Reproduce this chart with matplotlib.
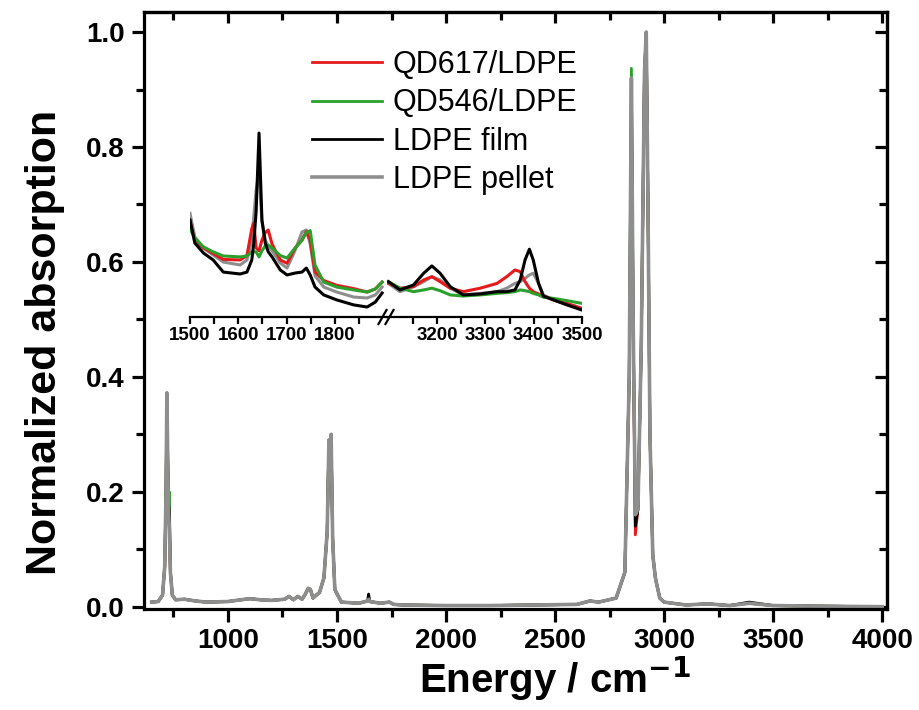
import matplotlib
matplotlib.use("Agg")
import matplotlib.pyplot as plt
from matplotlib.ticker import MultipleLocator, FixedLocator

plt.rcParams['font.family'] = ['Liberation Sans', 'DejaVu Sans']

# ---- main spectrum (normalized absorption vs wavenumber) ----
wn_main = [650, 680, 700, 710, 716, 720, 724, 728, 731, 736, 745, 760, 800, 850, 900,
           1000, 1080, 1100, 1150, 1200, 1260, 1280, 1300, 1320, 1340, 1355, 1368, 1378,
           1390, 1420, 1440, 1455, 1463, 1468, 1473, 1480, 1490, 1520, 1600, 1640, 1645,
           1650, 1700, 1740, 1760, 1800, 2000, 2200, 2400, 2600, 2660, 2700, 2780, 2820,
           2840, 2850, 2858, 2868, 2880, 2895, 2910, 2918, 2926, 2935, 2948, 2960, 2980,
           3000, 3100, 3200, 3300, 3390, 3500, 3700, 4000]

pellet_main = [0.008, 0.009, 0.02, 0.07, 0.2, 0.372, 0.25, 0.16, 0.14, 0.06, 0.02, 0.012, 0.013, 0.010, 0.008,
               0.009, 0.013, 0.014, 0.012, 0.011, 0.013, 0.018, 0.012, 0.018, 0.013, 0.022, 0.032, 0.030,
               0.015, 0.025, 0.05, 0.13, 0.29, 0.25, 0.30, 0.12, 0.03, 0.008, 0.006, 0.010, 0.013,
               0.009, 0.006, 0.008, 0.004, 0.003, 0.002, 0.002, 0.003, 0.004, 0.010, 0.008, 0.015, 0.06,
               0.40, 0.92, 0.50, 0.16, 0.17, 0.45, 0.93, 1.0, 0.70, 0.30, 0.09, 0.05, 0.015,
               0.008, 0.003, 0.005, 0.002, 0.006, 0.002, 0.001, 0.0]

film_main = [0.008, 0.009, 0.02, 0.07, 0.2, 0.35, 0.25, 0.18, 0.17, 0.06, 0.02, 0.012, 0.013, 0.010, 0.008,
             0.009, 0.013, 0.014, 0.012, 0.011, 0.013, 0.018, 0.012, 0.018, 0.013, 0.022, 0.032, 0.030,
             0.015, 0.025, 0.05, 0.13, 0.29, 0.25, 0.30, 0.12, 0.03, 0.008, 0.006, 0.010, 0.022,
             0.009, 0.006, 0.008, 0.004, 0.003, 0.002, 0.002, 0.003, 0.004, 0.010, 0.008, 0.015, 0.06,
             0.40, 0.91, 0.50, 0.14, 0.17, 0.45, 0.93, 1.0, 0.70, 0.30, 0.09, 0.05, 0.015,
             0.008, 0.003, 0.005, 0.002, 0.008, 0.002, 0.001, 0.0]

qd617_main = [0.008, 0.009, 0.02, 0.07, 0.2, 0.372, 0.25, 0.16, 0.14, 0.06, 0.02, 0.012, 0.013, 0.010, 0.008,
              0.009, 0.013, 0.014, 0.012, 0.011, 0.013, 0.018, 0.012, 0.018, 0.013, 0.022, 0.032, 0.030,
              0.015, 0.025, 0.05, 0.13, 0.29, 0.25, 0.30, 0.12, 0.03, 0.008, 0.006, 0.010, 0.013,
              0.009, 0.006, 0.008, 0.004, 0.003, 0.002, 0.002, 0.003, 0.004, 0.010, 0.008, 0.015, 0.06,
              0.40, 0.86, 0.50, 0.125, 0.17, 0.45, 0.93, 0.99, 0.70, 0.30, 0.09, 0.05, 0.015,
              0.008, 0.003, 0.005, 0.002, 0.006, 0.002, 0.001, 0.0]

qd546_main = [0.008, 0.009, 0.02, 0.07, 0.2, 0.372, 0.25, 0.16, 0.20, 0.06, 0.02, 0.012, 0.013, 0.010, 0.008,
              0.009, 0.013, 0.014, 0.012, 0.011, 0.013, 0.018, 0.012, 0.018, 0.013, 0.022, 0.032, 0.030,
              0.015, 0.025, 0.05, 0.13, 0.29, 0.25, 0.30, 0.12, 0.03, 0.008, 0.006, 0.010, 0.013,
              0.009, 0.006, 0.008, 0.004, 0.003, 0.002, 0.002, 0.003, 0.004, 0.010, 0.008, 0.015, 0.06,
              0.40, 0.937, 0.50, 0.15, 0.17, 0.45, 0.93, 1.0, 0.70, 0.30, 0.09, 0.05, 0.015,
              0.008, 0.003, 0.005, 0.002, 0.006, 0.002, 0.001, 0.0]

# ---- inset, low wavenumber part (arb. units) ----
wn_in1 = [1500, 1510, 1528, 1548, 1569, 1604, 1618, 1628, 1632, 1637, 1643, 1649, 1656, 1662,
          1670, 1687, 1701, 1718, 1732, 1741, 1749, 1759, 1777, 1804, 1839, 1867, 1884, 1898]
film_in1 = [0.505, 0.385, 0.333, 0.297, 0.234, 0.224, 0.234, 0.297, 0.38, 0.55, 0.958, 0.505, 0.385, 0.34,
            0.313, 0.245, 0.219, 0.229, 0.234, 0.255, 0.219, 0.156, 0.115, 0.089, 0.063, 0.052, 0.078, 0.125]
pellet_in1 = [0.54, 0.417, 0.359, 0.323, 0.286, 0.271, 0.297, 0.40, 0.52, 0.66, 0.76, 0.50, 0.40, 0.37,
              0.345, 0.281, 0.255, 0.349, 0.443, 0.453, 0.38, 0.215, 0.156, 0.13, 0.104, 0.099, 0.115, 0.156]
qd546_in1 = [0.46, 0.411, 0.365, 0.339, 0.318, 0.313, 0.318, 0.339, 0.34, 0.339, 0.313, 0.345, 0.37, 0.375,
             0.36, 0.32, 0.307, 0.36, 0.40, 0.44, 0.45, 0.27, 0.182, 0.156, 0.141, 0.13, 0.146, 0.182]
qd617_in1 = [0.50, 0.40, 0.36, 0.33, 0.30, 0.297, 0.32, 0.46, 0.49, 0.36, 0.345, 0.40, 0.44, 0.453,
             0.38, 0.297, 0.28, 0.36, 0.40, 0.445, 0.40, 0.235, 0.19, 0.165, 0.148, 0.13, 0.146, 0.182]

# ---- inset, high wavenumber part ----
wn_in2 = [3099, 3123, 3151, 3172, 3189, 3206, 3227, 3254, 3289, 3324, 3344, 3361, 3372, 3382,
          3391, 3399, 3410, 3420, 3441, 3469, 3500]
film_in2 = [0.184, 0.141, 0.167, 0.228, 0.266, 0.228, 0.158, 0.115, 0.12, 0.132, 0.132, 0.141, 0.193, 0.297,
            0.353, 0.297, 0.175, 0.109, 0.089, 0.063, 0.036]
pellet_in2 = [0.175, 0.132, 0.158, 0.184, 0.21, 0.193, 0.15, 0.115, 0.123, 0.132, 0.15, 0.175, 0.184, 0.201,
              0.219, 0.228, 0.175, 0.115, 0.089, 0.063, 0.04]
qd546_in2 = [0.184, 0.15, 0.132, 0.141, 0.15, 0.137, 0.115, 0.109, 0.115, 0.123, 0.127, 0.132, 0.141, 0.137,
             0.132, 0.123, 0.115, 0.103, 0.097, 0.085, 0.071]
qd617_in2 = [0.175, 0.15, 0.158, 0.193, 0.21, 0.184, 0.15, 0.132, 0.15, 0.175, 0.21, 0.245, 0.236, 0.184,
             0.15, 0.132, 0.12, 0.109, 0.089, 0.071, 0.045]

labels = ['QD617/LDPE', 'QD546/LDPE', 'LDPE film', 'LDPE pellet']
red, green, black, gray = '#e41a1c', '#2ca02c', '#000000', '#8e8e8e'

fig = plt.figure(figsize=(9.19, 7.10), dpi=100)
ax = fig.add_axes([144/919, 1-609/710, 743/919, 597/710])

l1, = ax.plot(wn_main, qd617_main, color=red, lw=2)
l2, = ax.plot(wn_main, qd546_main, color=green, lw=2)
l3, = ax.plot(wn_main, film_main, color=black, lw=2)
l4, = ax.plot(wn_main, pellet_main, color=gray, lw=2.6)

ax.set_xlim(615, 4022)
ax.set_ylim(-0.004, 1.035)
ax.xaxis.set_minor_locator(MultipleLocator(250))
ax.yaxis.set_major_locator(MultipleLocator(0.2))
ax.yaxis.set_minor_locator(MultipleLocator(0.1))
ax.set_xticks([1000, 1500, 2000, 2500, 3000, 3500, 4000])
ax.yaxis.set_major_formatter(plt.FormatStrFormatter('%.1f'))
for s in ax.spines.values():
    s.set_linewidth(2.3)
ax.tick_params(which='major', direction='out', length=9, width=2.3, pad=5,
               labelsize=20)
ax.tick_params(which='minor', direction='out', length=6, width=2.3)
for t in ax.get_xticklabels() + ax.get_yticklabels():
    t.set_fontweight('bold')

# inward ticks on top and right
top = ax.secondary_xaxis('top')
top.xaxis.set_major_locator(MultipleLocator(500))
top.xaxis.set_minor_locator(MultipleLocator(250))
top.tick_params(which='major', direction='in', length=8, width=2.3, labeltop=False)
top.tick_params(which='minor', direction='in', length=6, width=2.3)
right = ax.secondary_yaxis('right')
right.yaxis.set_major_locator(MultipleLocator(0.2))
right.yaxis.set_minor_locator(MultipleLocator(0.1))
right.tick_params(which='major', direction='in', length=9, width=2.3, labelright=False)
right.tick_params(which='minor', direction='in', length=6, width=2.3)
top.spines['top'].set_linewidth(2.3)
right.spines['right'].set_linewidth(2.3)

fig.text(555/919, 1-679/710, 'Energy / cm$^{\\mathbf{-1}}$', fontsize=29, fontweight='bold',
         ha='center', va='center')
fig.text(45/919, 1-342/710, 'Normalized absorption', fontsize=31, fontweight='bold',
         rotation=90, ha='center', va='center')

ax.legend([l1, l2, l3, l4], labels, loc='upper left', bbox_to_anchor=(312/919, 1-50/710),
          bbox_transform=fig.transFigure, frameon=False, fontsize=22, handlelength=2.3,
          handletextpad=0.35, labelspacing=0.27, borderpad=0, borderaxespad=0)

# ---- broken-axis inset ----
ins1 = fig.add_axes([190/919, 1-317/710, 195.5/919, 192/710])
ins2 = fig.add_axes([386.5/919, 1-317/710, 195.5/919, 192/710])
for a, x, yr, yg, yk, yp in [(ins1, wn_in1, qd617_in1, qd546_in1, film_in1, pellet_in1),
                             (ins2, wn_in2, qd617_in2, qd546_in2, film_in2, pellet_in2)]:
    a.plot(x, yp, color=gray, lw=2.2)
    a.plot(x, yr, color=red, lw=2.2)
    a.plot(x, yg, color=green, lw=2.2)
    a.plot(x, yk, color=black, lw=2.2)
    a.patch.set_alpha(0)
    a.set_ylim(0, 1)
    for side in ['left', 'right', 'top']:
        a.spines[side].set_visible(False)
    a.spines['bottom'].set_linewidth(1.6)
    a.set_yticks([])
    a.tick_params(axis='x', which='both', direction='out', length=5, width=1.6, pad=2,
                  labelsize=13.5)
ins1.set_xlim(1500, 1905)
ins1.xaxis.set_major_locator(FixedLocator([1500, 1600, 1700, 1800]))
ins1.xaxis.set_minor_locator(FixedLocator([1550, 1650, 1750, 1850]))
ins2.set_xlim(3095, 3500)
ins2.xaxis.set_major_locator(FixedLocator([3200, 3300, 3400, 3500]))
ins2.xaxis.set_minor_locator(FixedLocator([3150, 3250, 3350, 3450]))
for a in (ins1, ins2):
    for t in a.get_xticklabels():
        t.set_fontweight('bold')

# break marks
dx, dy = 4/195.5, 7/192
for x0 in (1 - 3/195.5, 1 + 4/195.5):
    ins1.plot([x0 - dx, x0 + dx], [-dy, dy], transform=ins1.transAxes, color='black',
              lw=1.6, clip_on=False)

fig.savefig('out.png', dpi=100)
